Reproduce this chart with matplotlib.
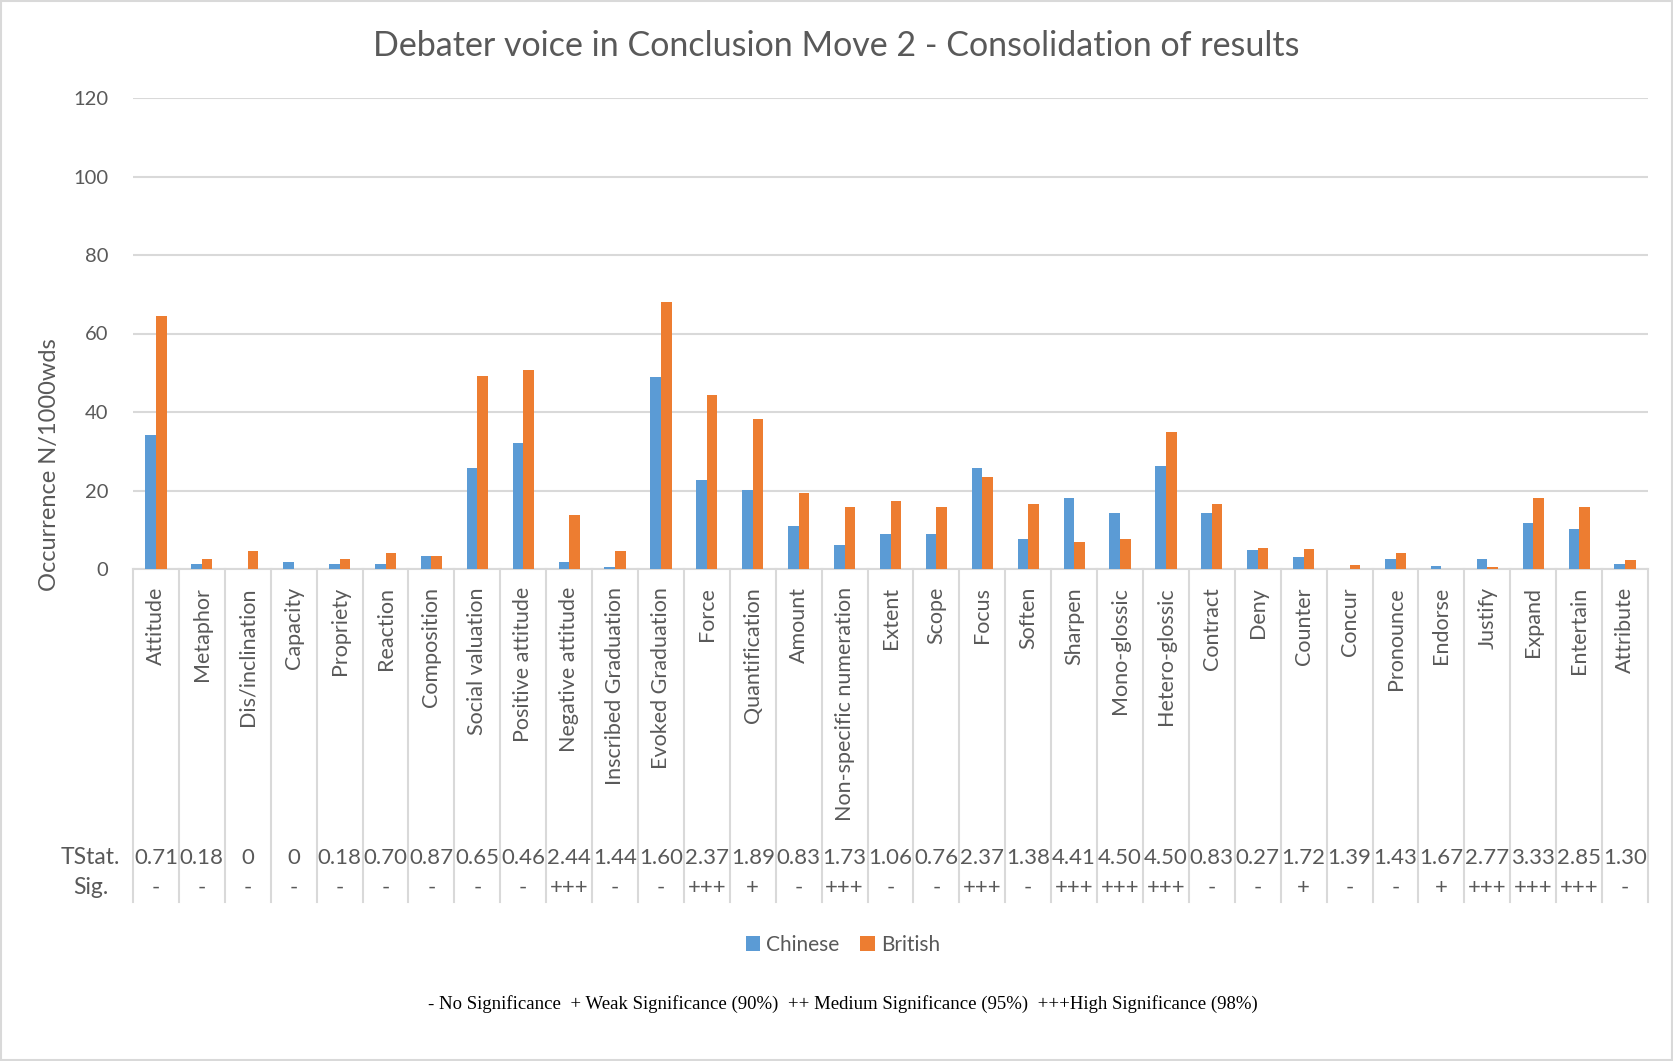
import numpy as np
import matplotlib
matplotlib.use("Agg")
import matplotlib.pyplot as plt
import matplotlib.transforms as mtransforms
from matplotlib.lines import Line2D
from matplotlib.patches import Rectangle

plt.rcParams['font.family'] = ['Lato', 'DejaVu Sans']

categories = ["Attitude", "Metaphor", "Dis/inclination", "Capacity", "Propriety",
              "Reaction", "Composition", "Social valuation", "Positive attitude",
              "Negative attitude", "Inscribed Graduation", "Evoked Graduation",
              "Force", "Quantification", "Amount", "Non-specific numeration",
              "Extent", "Scope", "Focus", "Soften", "Sharpen", "Mono-glossic",
              "Hetero-glossic", "Contract", "Deny", "Counter", "Concur",
              "Pronounce", "Endorse", "Justify", "Expand", "Entertain", "Attribute"]

chinese = [34.1, 1.2, 0, 1.8, 1.2, 1.2, 3.3, 25.7, 32.0, 1.8, 0.5, 48.8,
           22.8, 20.1, 11.0, 6.1, 8.9, 9.0, 25.7, 7.6, 18.0, 14.2, 26.3,
           14.3, 4.8, 3.1, 0.1, 2.6, 0.7, 2.6, 11.8, 10.3, 1.3]
british = [64.5, 2.6, 4.6, 0, 2.6, 4.0, 3.2, 49.2, 50.6, 13.7, 4.6, 68.0,
           44.3, 38.1, 19.3, 15.9, 17.3, 15.9, 23.5, 16.6, 6.8, 7.7, 35.0,
           16.6, 5.4, 5.1, 0.9, 4.1, 0, 0.6, 18.2, 15.8, 2.4]

tstat = ["0.71", "0.18", "0", "0", "0.18", "0.70", "0.87", "0.65", "0.46", "2.44",
         "1.44", "1.60", "2.37", "1.89", "0.83", "1.73", "1.06", "0.76", "2.37",
         "1.38", "4.41", "4.50", "4.50", "0.83", "0.27", "1.72", "1.39", "1.43",
         "1.67", "2.77", "3.33", "2.85", "1.30"]
sig = ["-", "-", "-", "-", "-", "-", "-", "-", "-", "+++", "-", "-", "+++", "+",
       "-", "+++", "-", "-", "+++", "-", "+++", "+++", "+++", "-", "-", "+", "-",
       "-", "+", "+++", "+++", "+++", "-"]

blue = "#5B9BD5"
orange = "#ED7D31"
grey_txt = "#595959"
grid_c = "#D9D9D9"

W, H = 1673, 1061
fig = plt.figure(figsize=(W / 100, H / 100), dpi=100)
left, right, top, base = 133, 1648, 98, 569
ax = fig.add_axes([left / W, 1 - base / H, (right - left) / W, (base - top) / H])

x = np.arange(len(categories))
w = 0.23
ax.bar(x - w / 2, chinese, w, color=blue, label="Chinese", zorder=3)
ax.bar(x + w / 2, british, w, color=orange, label="British", zorder=3)

ax.set_xlim(-0.5, len(categories) - 0.5)
ax.set_ylim(0, 120)
ax.set_yticks(np.arange(0, 121, 20))
ax.grid(axis='y', color=grid_c, linewidth=1.5, zorder=0)
for s in ["top", "right", "left"]:
    ax.spines[s].set_visible(False)
ax.spines["bottom"].set_color(grid_c)
ax.spines["bottom"].set_linewidth(1.5)
ax.tick_params(axis='y', length=0, labelsize=14.5, labelcolor=grey_txt, pad=18)
ax.set_xticks(x)
ax.set_xticklabels(categories, rotation=90, va='top', ha='center')
ax.tick_params(axis='x', length=0, labelsize=15.5, labelcolor=grey_txt, pad=13)

fig.text(50 / W, 1 - 465 / H, "Occurrence N/1000wds", rotation=90,
         ha='center', va='center', fontsize=17, color=grey_txt)
fig.text(0.5, 1 - 46 / H, "Debater voice in Conclusion Move 2 - Consolidation of results",
         ha='center', va='center', fontsize=24.5, color=grey_txt)

# data table under the axis
tr = mtransforms.blended_transform_factory(ax.transData, fig.transFigure)
y_ts = 1 - 858 / H
y_sig = 1 - 888 / H
y_end = 1 - 902 / H
for b in np.arange(-0.5, len(categories), 1.0):
    fig.add_artist(Line2D([b, b], [1 - base / H, y_end], transform=tr,
                          color=grid_c, linewidth=1.5))
for i in range(len(categories)):
    fig.text(i, y_ts, tstat[i], transform=tr, ha='center', va='center',
             fontsize=16, color=grey_txt)
    fig.text(i, y_sig, sig[i], transform=tr, ha='center', va='center',
             fontsize=16, color=grey_txt)
fig.text(120 / W, y_ts, "TStat.", ha='right', va='center', fontsize=16.5, color=grey_txt)
fig.text(108 / W, y_sig, "Sig.", ha='right', va='center', fontsize=16.5, color=grey_txt)

fig.legend(loc='center', bbox_to_anchor=(843 / W, 1 - 945 / H), ncol=2, frameon=False,
           fontsize=15, handlelength=0.7, handleheight=0.7, handletextpad=0.3,
           columnspacing=1.0, labelcolor=grey_txt)

fig.text(843 / W, 1 - 1004 / H,
         "- No Significance  + Weak Significance (90%)  ++ Medium Significance (95%)  +++High Significance (98%)",
         ha='center', va='center', fontsize=13.5, family='Liberation Serif', color='black')

fig.add_artist(Rectangle((0.0005, 0.0008), 0.999, 0.9985, transform=fig.transFigure,
                         fill=False, edgecolor=grid_c, linewidth=1.5))

fig.savefig("out.png", dpi=100, facecolor='white')
